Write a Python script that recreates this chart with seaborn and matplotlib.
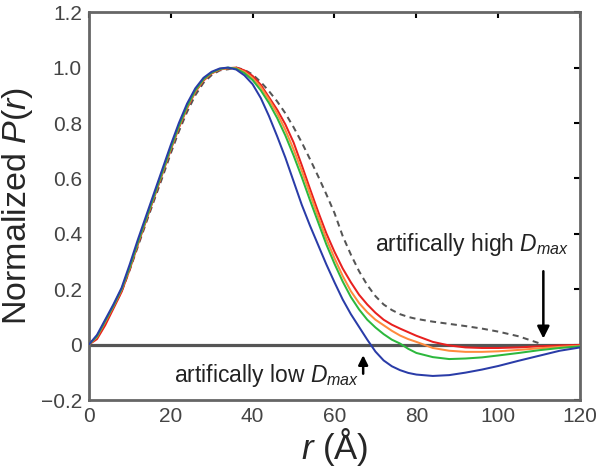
import numpy as np
import pandas as pd
import matplotlib
matplotlib.use("Agg")
import matplotlib.pyplot as plt
import seaborn as sns

# distance grid (Angstrom)
r = [0, 2, 4, 6, 8, 10, 12, 14, 16, 18, 20, 22, 24, 26, 28, 30, 32,
     34, 36, 38, 40, 42, 44, 46, 48, 50, 52, 54, 56, 58, 60, 62, 64, 66, 68,
     70, 72, 74, 76, 78, 80, 84, 88, 92, 96, 100, 105, 110, 115, 120]

# normalized P(r) curves
p_blue = [0, .035, .09, .145, .205, .29, .38, .465, .55, .635, .72, .80, .87, .925, .963, .985, .997,
          1.0, .993, .972, .94, .89, .825, .752, .675, .59, .505, .43, .36, .29, .225, .163, .11, .064, .018,
          -.025, -.057, -.078, -.092, -.102, -.108, -.113, -.11, -.101, -.09, -.077, -.058, -.04, -.022, -.01]
p_green = [0, .03, .085, .14, .2, .28, .37, .455, .54, .625, .71, .79, .86, .918, .958, .982, .995,
           1.0, .996, .98, .955, .918, .872, .818, .755, .683, .605, .522, .442, .362, .292, .228, .172, .127, .09,
           .062, .038, .018, .004, -.015, -.03, -.045, -.052, -.05, -.046, -.039, -.03, -.02, -.012, -.006]
p_orange = [0, .028, .082, .138, .198, .278, .368, .453, .538, .622, .707, .787, .857, .915, .956, .981, .994,
            .998, .998, .985, .962, .93, .885, .835, .775, .705, .628, .545, .462, .382, .312, .248, .193, .15, .117,
            .09, .07, .05, .033, .02, .01, -.012, -.022, -.026, -.026, -.024, -.019, -.013, -.008, -.004]
p_red = [0, .02, .07, .13, .19, .272, .362, .448, .533, .618, .703, .783, .853, .912, .953, .979, .993,
         .998, 1.0, .99, .97, .938, .893, .848, .795, .73, .648, .563, .48, .402, .335, .275, .225, .18, .145,
         .115, .09, .072, .058, .045, .032, .01, -.003, -.01, -.012, -.012, -.01, -.006, -.003, -.001]
p_high = [0, .03, .08, .135, .192, .27, .355, .44, .523, .605, .69, .77, .84, .9, .945, .973, .99,
          .994, 1.0, .992, .975, .948, .915, .878, .835, .785, .73, .67, .608, .543, .475, .392, .325, .265, .215,
          .175, .145, .125, .11, .1, .093, .083, .075, .067, .058, .047, .03, .005, np.nan, np.nan]

xticks = [0, 20, 40, 60, 80, 100, 120]
yticks = [-0.2, 0, 0.2, 0.4, 0.6, 0.8, 1.0, 1.2]
ytick_labels = ["\u22120.2", "0", "0.2", "0.4", "0.6", "0.8", "1.0", "1.2"]

sns.set_style("white")
plt.rcParams["font.family"] = ["Liberation Sans", "DejaVu Sans"]
plt.rcParams["mathtext.fontset"] = "custom"
plt.rcParams["mathtext.rm"] = "Liberation Sans"
plt.rcParams["mathtext.it"] = "Liberation Sans:italic"

fig = plt.figure(figsize=(6, 4.69), dpi=100)
ax = fig.add_axes([0.148, 0.147, 0.819, 0.827])

ax.axhline(0, color="#555555", lw=2.3, zorder=1)

curves = [(p_high, "#555555", (0, (3, 2.2))),
          (p_red, "#e8201f", "-"),
          (p_orange, "#ff8a3d", "-"),
          (p_green, "#2db83d", "-"),
          (p_blue, "#2a3ca8", "-")]
for vals, col, ls in curves:
    sns.lineplot(x=r, y=vals, color=col, lw=1.45, linestyle=ls, ax=ax, zorder=3)

ax.set_xlim(0, 120)
ax.set_ylim(-0.2, 1.2)
ax.set_xticks(xticks)
ax.set_xticklabels([str(t) for t in xticks])
ax.set_yticks(yticks)
ax.set_yticklabels(ytick_labels)
ax.tick_params(direction="in", top=True, right=True, length=4, width=1.5,
               color="black", labelsize=15, labelcolor="#444444", pad=5)
for sp in ax.spines.values():
    sp.set_color("#666666")
    sp.set_linewidth(2)

ax.set_xlabel(r"$r$ (Å)", fontsize=25, labelpad=0)
ax.set_ylabel(r"Normalized $P$($r$)", fontsize=24.5, labelpad=4)

ax.text(93.5, 0.36, r"artifically high $D_{max}$", fontsize=16.5, ha="center", va="center", color="#222222")
ax.text(43.5, -0.11, r"artifically low $D_{max}$", fontsize=16.5, ha="center", va="center", color="#222222")

ax.annotate("", xy=(111, 0.012), xytext=(111, 0.275),
            arrowprops=dict(arrowstyle="-|>", color="black", lw=1.8, mutation_scale=18), zorder=5)
ax.annotate("", xy=(67, -0.028), xytext=(67, -0.115),
            arrowprops=dict(arrowstyle="-|>", color="black", lw=1.8, mutation_scale=14), zorder=5)

fig.savefig("out.png", dpi=100)
